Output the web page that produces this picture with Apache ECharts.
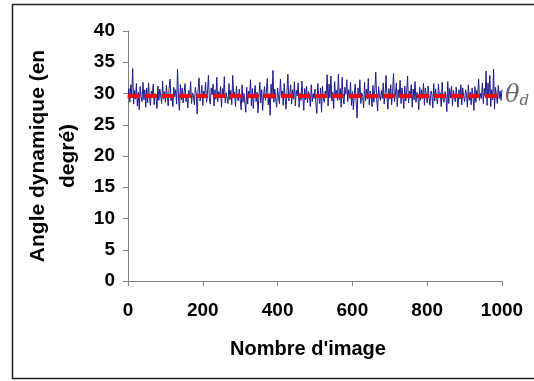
<!DOCTYPE html>
<html>
<head>
<meta charset="utf-8">
<script src="https://cdn.jsdelivr.net/npm/echarts@6/dist/echarts.min.js"></script>
<style>html,body{margin:0;padding:0;background:#fff}#c{width:534px;height:381px}</style>
</head>
<body>
<div id="c"></div>
<script>
const xTicks = [0, 200, 400, 600, 800, 1000];
const yTicks = [0, 5, 10, 15, 20, 25, 30, 35, 40];
const frameStep = 2.5; // one reading every 2.5 images
const dynamicAngle = [
29.2, 30.8, 28.6, 31.4, 29.9, 34.0, 28.3, 30.5, 29.1, 31.6,
28.0, 30.2, 27.4, 31.1, 29.5, 28.7, 31.8, 29.0, 30.6, 27.8,
30.9, 28.5, 31.7, 29.3, 28.1, 30.4, 29.8, 31.5, 28.2, 30.0,
29.4, 27.6, 31.2, 28.9, 30.7, 29.6, 28.4, 32.0, 29.1, 30.3,
28.6, 31.3, 29.7, 28.0, 30.8, 32.3, 28.8, 29.9, 27.9, 31.0,
29.5, 30.6, 28.3, 33.9, 29.2, 27.3, 31.4, 29.0, 30.9, 28.5,
30.2, 31.6, 28.7, 29.8, 27.7, 30.5, 29.3, 31.9, 28.4, 30.1,
29.6, 28.2, 31.0, 29.9, 26.7, 30.7, 32.5, 28.8, 29.4, 31.3,
28.1, 30.4, 29.7, 31.8, 28.6, 30.0, 32.9, 29.2, 28.3, 30.9,
29.8, 31.5, 28.0, 30.6, 29.1, 32.6, 28.7, 30.3, 29.5, 31.1,
27.8, 30.8, 29.4, 32.7, 28.5, 30.1, 29.9, 28.4, 31.6, 29.0,
30.5, 28.2, 32.9, 29.6, 30.2, 27.9, 31.2, 29.3, 28.8, 30.7,
29.1, 27.4, 31.4, 28.6, 30.0, 29.7, 27.0, 31.0, 28.3, 30.4,
29.5, 32.2, 28.0, 30.8, 27.6, 29.9, 31.3, 28.7, 30.2, 26.9,
29.4, 31.8, 28.5, 30.6, 27.3, 29.8, 31.1, 28.9, 30.3, 32.4,
28.2, 30.0, 26.5, 31.5, 29.2, 33.7, 28.6, 30.7, 29.0, 27.8,
30.9, 29.3, 28.4, 32.3, 29.7, 30.4, 28.1, 31.6, 29.5, 27.5,
30.2, 33.1, 28.8, 29.9, 31.4, 28.3, 30.6, 29.1, 31.9, 28.0,
30.5, 29.6, 31.7, 27.8, 30.1, 28.9, 32.0, 29.4, 27.3, 30.8,
29.0, 31.2, 28.5, 30.3, 29.8, 27.9, 31.4, 28.7, 30.0, 29.2,
30.7, 28.2, 26.8, 31.6, 29.5, 28.4, 30.9, 27.0, 31.2, 29.1,
28.6, 30.4, 29.7, 33.0, 28.0, 31.5, 29.3, 32.8, 28.8, 30.2,
27.6, 31.9, 29.6, 30.5, 28.9, 33.1, 29.0, 30.8, 27.8, 32.6,
29.4, 28.3, 31.0, 29.9, 32.2, 28.7, 30.6, 29.2, 31.8, 28.1,
30.3, 27.4, 29.8, 31.5, 28.6, 26.1, 30.9, 29.3, 32.2, 28.4,
30.1, 29.5, 27.7, 31.8, 28.8, 30.7, 29.1, 32.4, 28.2, 30.4,
29.7, 27.9, 31.3, 28.6, 30.6, 33.4, 29.0, 27.2, 31.1, 29.6,
28.9, 30.5, 29.2, 31.7, 28.3, 30.0, 32.9, 29.4, 27.5, 30.8,
29.1, 31.4, 28.2, 30.3, 33.2, 28.7, 29.9, 31.7, 27.9, 30.6,
29.3, 32.1, 28.4, 30.9, 29.6, 27.6, 31.2, 28.8, 30.1, 32.8,
28.5, 30.4, 29.8, 31.4, 27.8, 30.7, 29.0, 31.9, 28.6, 30.2,
29.5, 27.4, 31.0, 28.9, 30.6, 29.2, 31.6, 28.1, 30.9, 29.7,
28.5, 31.2, 29.4, 28.1, 30.4, 29.9, 27.7, 31.6, 28.8, 30.7,
29.2, 28.3, 31.5, 29.6, 30.1, 27.9, 31.8, 29.0, 28.6, 30.3,
29.8, 27.1, 31.9, 28.4, 30.8, 29.3, 31.2, 28.0, 30.5, 29.6,
28.7, 31.0, 29.4, 27.8, 30.6, 29.1, 31.4, 28.2, 30.9, 29.5,
28.7, 30.6, 29.9, 27.8, 31.4, 28.9, 30.2, 28.2, 30.9, 29.4,
27.3, 31.1, 28.6, 30.5, 29.7, 32.3, 28.9, 30.0, 29.2, 31.7,
28.4, 30.8, 29.6, 33.6, 28.1, 31.7, 29.3, 32.9, 27.9, 30.6,
29.0, 33.9, 27.5, 31.0, 29.8, 28.4, 31.3, 29.2, 30.4, 28.9,
30.6
];
const thetaD = 29.7;

const chart = echarts.init(document.getElementById('c'), null, {renderer: 'canvas'});
const font = 'Liberation Sans, Arial, sans-serif';
chart.setOption({
  backgroundColor: '#fff',
  animation: false,
  grid: {left: 128, right: 32, top: 31, bottom: 100, containLabel: false},
  xAxis: {
    type: 'value', min: xTicks[0], max: xTicks[xTicks.length - 1], interval: 200,
    name: "Nombre d'image", nameLocation: 'middle', nameGap: 58,
    nameTextStyle: {fontFamily: font, fontWeight: 'bold', fontSize: 20, color: '#000', padding: [0, 14, 0, 0]},
    axisLine: {lineStyle: {color: '#808080', width: 1}},
    axisTick: {show: true, inside: false, length: 5, lineStyle: {color: '#808080'}},
    axisLabel: {fontFamily: font, fontWeight: 'bold', fontSize: 19, color: '#000', margin: 20,
      formatter: v => String(v)},
    splitLine: {show: false}
  },
  yAxis: {
    type: 'value', min: yTicks[0], max: yTicks[yTicks.length - 1], interval: 5,
    name: 'Angle dynamique (en\ndegré)', nameLocation: 'middle', nameGap: 43, nameRotate: 90,
    nameTextStyle: {fontFamily: font, fontWeight: 'bold', fontSize: 21, color: '#000', lineHeight: 30},
    axisLine: {show: true, lineStyle: {color: '#808080', width: 1}},
    axisTick: {show: true, inside: false, length: 5, lineStyle: {color: '#808080'}},
    axisLabel: {fontFamily: font, fontWeight: 'bold', fontSize: 19, color: '#000', margin: 13,
      formatter: v => String(v)},
    splitLine: {show: false}
  },
  graphic: [{
    type: 'rect', shape: {x: 12.5, y: 4.5, width: 540, height: 374},
    style: {fill: 'none', stroke: '#222', lineWidth: 1.5}, silent: true, z: 100
  }],
  series: [{
    type: 'line',
    data: dynamicAngle.map((v, i) => [i * frameStep, v]),
    symbol: 'none',
    lineStyle: {color: '#1c1c8c', width: 1},
    markLine: {
      silent: true, symbol: 'none',
      lineStyle: {color: '#ff0000', width: 4, type: [12, 5]},
      label: {
        show: true, position: 'end', distance: 3,
        formatter: '{t|θ}{s|d}',
        rich: {
          t: {fontFamily: 'DejaVu Serif, serif', fontStyle: 'italic', fontSize: 24, color: '#666'},
          s: {fontFamily: 'DejaVu Serif, serif', fontStyle: 'italic', fontSize: 15, color: '#666', padding: [12, 0, 0, 0]}
        }
      },
      data: [{yAxis: thetaD}]
    },
    z: 2
  }]
});
</script>
</body>
</html>
